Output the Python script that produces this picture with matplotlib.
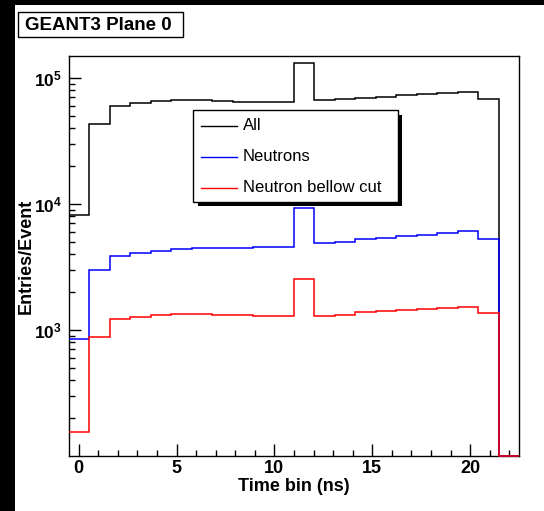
import numpy as np
import matplotlib
matplotlib.use("Agg")
import matplotlib.pyplot as plt
from matplotlib.patches import Rectangle
from matplotlib.lines import Line2D
from matplotlib.ticker import FixedLocator, LogLocator, MultipleLocator, FuncFormatter

plt.rcParams["font.family"] = ["Liberation Sans", "DejaVu Sans"]
plt.rcParams["mathtext.fontset"] = "custom"
plt.rcParams["mathtext.rm"] = "Liberation Sans:bold"
plt.rcParams["mathtext.bf"] = "Liberation Sans:bold"

# %% Datos (22 bins entre -0.5 y 22.5 ns)

bordes = np.linspace(-0.5, 22.5, 23)

todos = [8180, 42900, 59700, 63400, 65000, 66500, 66500, 66000, 64600, 64000, 64600,
         130000, 66500, 68200, 69500, 70800, 72500, 73800, 75200, 76600, 67500, 0]
neutrones = [853, 3000, 3880, 4060, 4230, 4360, 4440, 4470, 4490, 4520, 4550,
             9330, 4860, 5010, 5300, 5400, 5540, 5700, 5870, 6060, 5300, 0]
neutrones_corte = [155, 880, 1222, 1275, 1322, 1346, 1340, 1322, 1315, 1298, 1282,
                   2550, 1290, 1315, 1381, 1423, 1449, 1458, 1486, 1531, 1355, 0]

series = [("All", todos, "black"),
          ("Neutrons", neutrones, "#0000ff"),
          ("Neutron bellow cut", neutrones_corte, "#ff0000")]

titulo = "GEANT3 Plane 0"
ymin, ymax = 100, 1.49e5

# %% Grafico

W, H = 544, 511
fig = plt.figure(figsize=(W / 100, H / 100), dpi=100)


def fx(x):
    return x / W


def fy(y):
    return 1 - y / H


# borde negro del canvas
fig.patches.append(Rectangle((0, 0), fx(15), 1, transform=fig.transFigure,
                             facecolor="black", edgecolor="none", zorder=0))
fig.patches.append(Rectangle((0, fy(5)), 1, 5 / H, transform=fig.transFigure,
                             facecolor="black", edgecolor="none", zorder=0))

ax = fig.add_axes([fx(69), fy(456), fx(519) - fx(69), fy(56) - fy(456)])

for nombre, valores, color in series:
    v = np.array(valores, dtype=float)
    v = np.where(v > 0, v, ymin)
    ax.stairs(v, bordes, baseline=None, color=color, lw=1.1, zorder=3, clip_on=False)

ax.set_yscale("log")
ax.set_xlim(bordes[0], bordes[-1])
ax.set_ylim(ymin, ymax)

ax.xaxis.set_major_locator(MultipleLocator(5))
ax.xaxis.set_minor_locator(MultipleLocator(1))
ax.yaxis.set_major_locator(FixedLocator([1e3, 1e4, 1e5]))
ax.yaxis.set_minor_locator(LogLocator(base=10, subs=np.arange(2, 10)))
ax.yaxis.set_minor_formatter(FuncFormatter(lambda v, p: ""))
ax.yaxis.set_major_formatter(FuncFormatter(lambda v, p: r"$\mathbf{10^{%d}}$" % round(np.log10(v))))

ax.tick_params(which="both", direction="in", top=False, right=False, width=1)
ax.tick_params(which="major", length=8.6)
ax.tick_params(which="minor", length=4.3)
ax.tick_params(axis="x", labelsize=13, pad=3)
ax.tick_params(axis="y", labelsize=12.5, pad=5)
for lab in ax.get_xticklabels():
    lab.set_fontweight("bold")
for s in ax.spines.values():
    s.set_linewidth(1)

ax.set_xlabel("Time bin (ns)", fontsize=13, fontweight="bold")
ax.xaxis.set_label_coords(0.5, -0.055)
ax.set_ylabel("Entries/Event", fontsize=13, fontweight="bold")
ax.yaxis.set_label_coords(-0.075, 0.5)

# %% Leyenda (estilo ROOT con sombra)

fig.patches.append(Rectangle((fx(198), fy(206)), fx(402) - fx(198), fy(115) - fy(206),
                             transform=fig.transFigure, facecolor="black",
                             edgecolor="none", zorder=5))
fig.patches.append(Rectangle((fx(193), fy(202)), fx(398) - fx(193), fy(110) - fy(202),
                             transform=fig.transFigure, facecolor="white",
                             edgecolor="black", lw=1, zorder=6))
for i, (nombre, valores, color) in enumerate(series):
    yy = 126 + i * 30.8
    fig.lines.append(Line2D([fx(201), fx(237)], [fy(yy), fy(yy)], transform=fig.transFigure,
                            color=color, lw=1, zorder=7))
    fig.text(fx(243), fy(yy), nombre, fontsize=12, va="center", ha="left", zorder=7)

# %% Titulo en caja

fig.patches.append(Rectangle((fx(18), fy(37)), fx(183) - fx(18), fy(12) - fy(37),
                             transform=fig.transFigure, facecolor="white",
                             edgecolor="black", lw=1, zorder=5))
fig.text(fx(25), fy(25), titulo, fontsize=13.5, fontweight="bold", va="center",
         ha="left", zorder=6)

fig.savefig("out.png", dpi=100)
